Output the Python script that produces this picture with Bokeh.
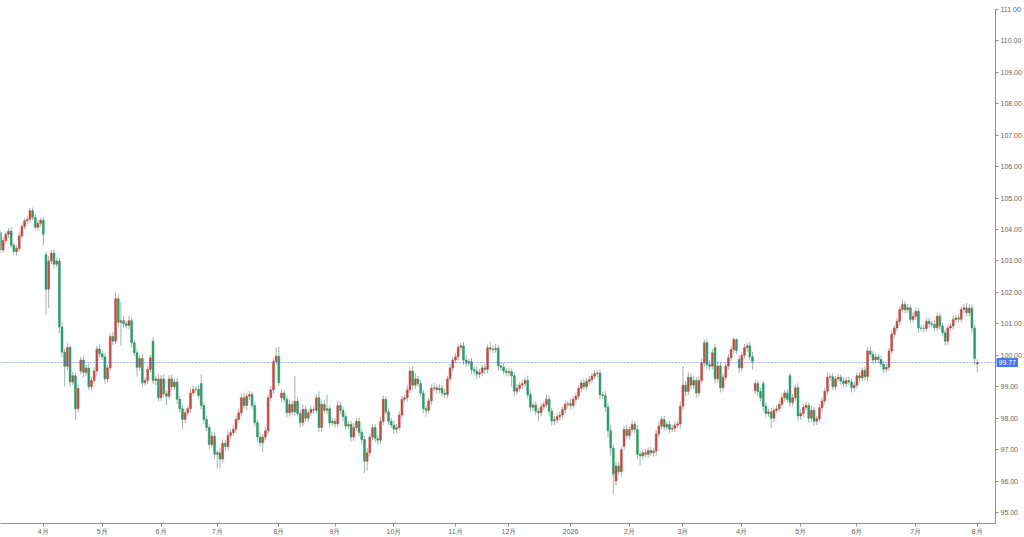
import pandas as pd
from bokeh.plotting import figure
from bokeh.models import Range1d, FixedTicker, Span, Label, ColumnDataSource, NumeralTickFormatter
from bokeh.embed import file_html
from bokeh.resources import INLINE

# ---------------- data ----------------
start_date = "2025-03-10"
first_open = 103.9

closes = [
    103.35, 103.65, 103.85, 103.95, 103.5, 103.3, 103.4, 103.8, 104.1, 104.28,
    104.32, 104.6, 104.38, 104.07, 104.2, 104.3, 103.85, 102.1, 103.0, 103.25,
    102.9, 103.0, 100.9, 100.1, 99.65, 100.25, 99.15, 99.35, 98.3, 98.95,
    99.85, 99.45, 99.6, 99.0, 99.2, 99.5, 100.2, 100.05, 99.95, 99.25,
    99.6, 100.6, 100.45, 101.8, 101.05, 101.1, 101.0, 100.95, 101.1, 100.4,
    100.08, 99.62, 99.9, 99.13, 99.2, 99.55, 99.92, 99.2, 99.25, 98.65,
    99.25, 98.78, 98.7, 99.25, 99.0, 99.15, 98.6, 98.3, 97.96, 98.17,
    98.3, 98.8, 98.92, 98.92, 98.72, 98.4, 97.96, 97.7, 97.16, 97.43,
    96.85, 96.9, 96.7, 97.2, 97.1, 97.45, 97.54, 97.65, 97.96, 98.17,
    98.65, 98.4, 98.7, 98.75, 98.4, 97.86, 97.4, 97.22, 97.4, 97.6,
    98.65, 98.9, 99.8, 99.97, 99.13, 98.8, 98.6, 98.17, 98.44, 98.2,
    98.54, 98.15, 97.86, 98.28, 98.0, 98.17, 98.28, 98.25, 98.65, 97.7,
    98.44, 98.25, 98.3, 97.85, 97.9, 97.82, 98.4, 98.25, 98.05, 97.75,
    97.8, 97.4, 97.7, 97.9, 97.55, 97.32, 96.63, 96.9, 97.4, 97.7,
    97.35, 97.3, 97.9, 98.6, 98.2, 97.9, 97.78, 97.65, 97.7, 98.1,
    98.6, 98.65, 98.9, 99.5, 99.05, 99.25, 99.1, 98.8, 98.3, 98.25,
    98.55, 98.95, 98.97, 98.9, 98.95, 98.8, 98.75, 99.25, 99.6, 99.85,
    99.95, 100.25, 100.3, 99.85, 99.75, 99.8, 99.55, 99.5, 99.4, 99.45,
    99.6, 99.55, 100.24, 100.2, 100.18, 100.22, 99.66, 99.62, 99.5, 99.45,
    99.48, 99.35, 98.86, 98.95, 99.05, 99.1, 99.2, 98.75, 98.35, 98.42,
    98.22, 98.17, 98.36, 98.44, 98.6, 98.22, 97.91, 97.95, 98.05, 98.1,
    98.27, 98.44, 98.46, 98.4, 98.6, 98.7, 98.95, 99.12, 99.0, 99.17,
    99.23, 99.34, 99.42, 99.44, 98.75, 98.72, 98.35, 97.6, 97.05, 96.22,
    96.48, 96.3, 97.0, 97.64, 97.45, 97.64, 97.8, 97.64, 96.85, 96.8,
    96.9, 96.85, 96.97, 96.9, 96.95, 97.5, 97.75, 97.96, 97.72, 97.8,
    97.65, 97.68, 97.78, 97.82, 98.38, 99.05, 98.85, 99.3, 99.05, 99.2,
    98.8, 99.2, 99.76, 100.4, 99.7, 99.65, 100.08, 99.25, 99.66, 98.97,
    99.3, 99.66, 99.92, 100.18, 100.5, 100.15, 99.6, 100.0, 100.24, 100.3,
    99.95, 99.8, 99.1, 98.85, 98.65, 98.38, 98.15, 98.2, 98.0, 98.25,
    98.3, 98.44, 98.65, 98.8, 98.6, 98.5, 98.65, 98.97, 98.07, 98.15,
    98.35, 98.4, 98.0, 98.25, 97.9, 97.98, 98.33, 98.55, 98.86, 99.3,
    99.32, 99.0, 99.25, 99.3, 99.18, 99.1, 99.2, 99.15, 98.97, 99.05,
    99.35, 99.28, 99.52, 99.32, 100.14, 100.03, 99.85, 99.95, 99.87, 99.72,
    99.56, 99.62, 100.14, 100.67, 100.87, 101.08, 101.46, 101.62, 101.45, 101.51,
    101.14, 101.24, 101.4, 100.87, 100.86, 100.85, 101.08, 101.0, 100.98, 100.88,
    101.24, 100.93, 100.72, 100.45, 100.87, 100.93, 101.14, 101.19, 101.15, 101.46,
    101.51, 101.35, 101.5, 100.87, 99.9, 99.77,
]

# opens that gap away from the previous close
open_gaps = {17: 103.2, 30: 99.5, 57: 100.45, 75: 99.1, 105: 98.65,
             230: 96.0, 233: 97.1, 267: 100.24, 276: 99.87, 282: 98.88,
             285: 99.1, 295: 99.35, 365: 99.72}

upper_wicks = [
    0.10, 0.12, 0.08, 0.10, 0.12, 0.08, 0.10, 0.12, 0.10, 0.08,
    0.10, 0.08, 0.10, 0.12, 0.10, 0.08, 0.10, 0.10, 0.15, 0.10,
    0.12, 0.10, 0.10, 0.15, 0.12, 0.15, 0.10, 0.12, 0.10, 0.12,
    0.10, 0.12, 0.10, 0.15, 0.10, 0.12, 0.10, 0.15, 0.10, 0.12,
    0.10, 0.10, 0.15, 0.20, 0.12, 0.60, 0.15, 0.10, 0.15, 0.10,
    0.10, 0.12, 0.10, 0.15, 0.10, 0.12, 0.10, 0.12, 0.10, 0.15,
    0.12, 0.15, 0.10, 0.12, 0.15, 0.10, 0.12, 0.10, 0.12, 0.10,
    0.10, 0.15, 0.12, 0.10, 0.12, 0.30, 0.10, 0.12, 0.10, 0.15,
    0.12, 0.10, 0.15, 0.12, 0.10, 0.15, 0.10, 0.12, 0.10, 0.15,
    0.12, 0.15, 0.10, 0.12, 0.10, 0.12, 0.10, 0.15, 0.10, 0.12,
    0.10, 0.12, 0.10, 0.27, 0.30, 0.12, 0.10, 0.12, 0.15, 0.12,
    0.80, 0.12, 0.10, 0.15, 0.12, 0.10, 0.12, 0.10, 0.12, 0.20,
    0.12, 0.15, 0.45, 0.10, 0.12, 0.10, 0.15, 0.12, 0.10, 0.12,
    0.10, 0.12, 0.15, 0.10, 0.12, 0.10, 0.12, 0.15, 0.12, 0.10,
    0.12, 0.10, 0.15, 0.12, 0.10, 0.12, 0.10, 0.15, 0.12, 0.10,
    0.12, 0.10, 0.15, 0.12, 0.15, 0.20, 0.10, 0.12, 0.10, 0.12,
    0.10, 0.12, 0.15, 0.10, 0.12, 0.10, 0.12, 0.10, 0.12, 0.10,
    0.12, 0.10, 0.10, 0.12, 0.15, 0.10, 0.12, 0.10, 0.15, 0.12,
    0.10, 0.12, 0.10, 0.20, 0.12, 0.15, 0.10, 0.12, 0.15, 0.10,
    0.12, 0.10, 0.12, 0.15, 0.10, 0.12, 0.10, 0.15, 0.12, 0.10,
    0.12, 0.10, 0.12, 0.10, 0.15, 0.12, 0.10, 0.12, 0.10, 0.12,
    0.10, 0.12, 0.10, 0.15, 0.10, 0.12, 0.10, 0.12, 0.15, 0.10,
    0.12, 0.10, 0.12, 0.10, 0.12, 0.10, 0.15, 0.12, 0.20, 0.12,
    0.15, 0.12, 0.10, 0.12, 0.15, 0.10, 0.12, 0.10, 0.15, 0.12,
    0.10, 0.12, 0.10, 0.12, 0.10, 0.12, 0.15, 0.10, 0.12, 0.10,
    0.12, 0.10, 0.12, 0.10, 0.15, 0.60, 0.12, 0.15, 0.12, 0.15,
    0.12, 0.15, 0.12, 0.10, 0.12, 0.15, 0.12, 0.12, 0.15, 0.12,
    0.12, 0.10, 0.12, 0.10, 0.08, 0.05, 0.12, 0.10, 0.12, 0.10,
    0.12, 0.15, 0.12, 0.10, 0.12, 0.10, 0.12, 0.10, 0.12, 0.10,
    0.12, 0.10, 0.12, 0.10, 0.12, 0.10, 0.12, 0.10, 0.15, 0.12,
    0.10, 0.12, 0.10, 0.15, 0.12, 0.10, 0.12, 0.10, 0.12, 0.15,
    0.10, 0.12, 0.10, 0.12, 0.10, 0.12, 0.10, 0.12, 0.10, 0.12,
    0.10, 0.12, 0.10, 0.12, 0.12, 0.15, 0.10, 0.12, 0.10, 0.12,
    0.10, 0.12, 0.10, 0.12, 0.10, 0.12, 0.10, 0.16, 0.10, 0.12,
    0.10, 0.12, 0.10, 0.12, 0.10, 0.12, 0.10, 0.12, 0.10, 0.12,
    0.12, 0.10, 0.12, 0.10, 0.12, 0.10, 0.12, 0.10, 0.12, 0.10,
    0.12, 0.15, 0.12, 0.10, 0.10, 0.10,
]

lower_wicks = [
    0.10, 0.08, 0.10, 0.12, 0.08, 0.10, 0.12, 0.10, 0.08, 0.10,
    0.12, 0.10, 0.08, 0.10, 0.12, 0.10, 0.35, 0.80, 0.60, 0.10,
    0.12, 0.10, 0.20, 0.15, 0.65, 0.12, 0.15, 0.10, 0.35, 0.12,
    0.10, 0.15, 0.12, 0.10, 0.12, 0.10, 0.15, 0.12, 0.10, 0.15,
    0.12, 0.10, 0.12, 0.10, 0.15, 0.75, 0.12, 0.10, 0.12, 0.15,
    0.10, 0.30, 0.12, 0.15, 0.10, 0.12, 0.10, 0.12, 0.15, 0.12,
    0.10, 0.12, 0.30, 0.10, 0.12, 0.10, 0.15, 0.12, 0.30, 0.12,
    0.10, 0.12, 0.10, 0.12, 0.10, 0.12, 0.15, 0.12, 0.15, 0.10,
    0.12, 0.45, 0.30, 0.12, 0.15, 0.10, 0.12, 0.10, 0.12, 0.10,
    0.12, 0.10, 0.15, 0.12, 0.10, 0.12, 0.15, 0.12, 0.30, 0.10,
    0.12, 0.10, 0.12, 0.10, 0.12, 0.15, 0.10, 0.15, 0.12, 0.10,
    0.12, 0.10, 0.15, 0.12, 0.10, 0.12, 0.10, 0.12, 0.10, 0.15,
    0.12, 0.10, 0.12, 0.15, 0.10, 0.12, 0.10, 0.12, 0.15, 0.12,
    0.10, 0.15, 0.12, 0.10, 0.12, 0.15, 0.37, 0.30, 0.12, 0.10,
    0.12, 0.15, 0.10, 0.12, 0.10, 0.12, 0.10, 0.15, 0.12, 0.10,
    0.12, 0.10, 0.12, 0.10, 0.15, 0.12, 0.10, 0.12, 0.15, 0.20,
    0.10, 0.12, 0.10, 0.12, 0.10, 0.12, 0.10, 0.12, 0.10, 0.12,
    0.10, 0.12, 0.10, 0.15, 0.12, 0.10, 0.15, 0.12, 0.15, 0.12,
    0.12, 0.15, 0.12, 0.10, 0.12, 0.10, 0.15, 0.12, 0.10, 0.12,
    0.12, 0.35, 0.15, 0.12, 0.10, 0.12, 0.10, 0.12, 0.15, 0.12,
    0.12, 0.27, 0.10, 0.12, 0.10, 0.15, 0.15, 0.12, 0.10, 0.12,
    0.10, 0.12, 0.10, 0.12, 0.10, 0.12, 0.10, 0.12, 0.10, 0.12,
    0.10, 0.12, 0.10, 0.12, 0.15, 0.12, 0.15, 0.20, 0.25, 0.64,
    0.15, 0.12, 0.15, 0.12, 0.10, 0.12, 0.10, 0.12, 0.15, 0.30,
    0.12, 0.10, 0.12, 0.10, 0.12, 0.15, 0.12, 0.10, 0.12, 0.10,
    0.12, 0.10, 0.12, 0.10, 0.15, 0.12, 0.15, 0.12, 0.15, 0.12,
    0.15, 0.12, 0.10, 0.12, 0.15, 0.12, 0.10, 0.15, 0.12, 0.15,
    0.12, 0.10, 0.12, 0.10, 0.12, 0.10, 0.15, 0.12, 0.10, 0.12,
    0.12, 0.25, 0.12, 0.15, 0.12, 0.15, 0.12, 0.10, 0.30, 0.12,
    0.10, 0.12, 0.10, 0.12, 0.10, 0.15, 0.12, 0.10, 0.15, 0.12,
    0.12, 0.10, 0.15, 0.12, 0.15, 0.12, 0.10, 0.12, 0.10, 0.12,
    0.12, 0.10, 0.12, 0.10, 0.12, 0.10, 0.12, 0.10, 0.15, 0.12,
    0.10, 0.12, 0.10, 0.12, 0.15, 0.10, 0.12, 0.10, 0.12, 0.10,
    0.12, 0.10, 0.12, 0.10, 0.12, 0.10, 0.12, 0.10, 0.12, 0.10,
    0.12, 0.10, 0.12, 0.15, 0.10, 0.12, 0.10, 0.12, 0.10, 0.12,
    0.10, 0.12, 0.10, 0.15, 0.12, 0.10, 0.12, 0.10, 0.12, 0.10,
    0.12, 0.10, 0.12, 0.15, 0.20, 0.27,
]

last_price = 99.77
price_ticks = [95, 96, 97, 98, 99, 100, 101, 102, 103, 104, 105, 106, 107, 108, 109, 110, 111]

# ---------------- derived ----------------
n = len(closes)
opens = [first_open] + closes[:-1]
for k, v in open_gaps.items():
    opens[k] = v
highs = [max(o, c) + u for o, c, u in zip(opens, closes, upper_wicks[:n])]
lows = [min(o, c) - d for o, c, d in zip(opens, closes, lower_wicks[:n])]

dates = pd.bdate_range(start_date, periods=n)
idx = list(range(n))

RED = "#c04b44"
GREEN = "#2b9b68"
WICK = "#a3b2aa"

colors = [RED if c >= o else GREEN for o, c in zip(opens, closes)]
src = ColumnDataSource(dict(
    x=idx, open=opens, close=closes, high=highs, low=lows,
    top=[max(o, c) for o, c in zip(opens, closes)],
    bottom=[min(o, c) for o, c in zip(opens, closes)],
    color=colors,
))

# month ticks (first trading day of each month)
tick_pos = []
tick_lab = {}
for i in range(1, n):
    if dates[i].month != dates[i - 1].month:
        tick_pos.append(i)
        tick_lab[i] = "2026" if (dates[i].month == 1) else f"{dates[i].month}月"

X_END = 371.8
p = figure(width=1024, height=537,
           x_range=Range1d(0, X_END), y_range=Range1d(94.65, 111.0),
           output_backend="svg", toolbar_location=None,
           y_axis_location="right",
           min_border_left=0, min_border_top=0,
           min_border_right=0, min_border_bottom=0)
p.outline_line_color = None
p.grid.visible = False
p.background_fill_color = "white"
p.border_fill_color = "white"

p.segment(x0="x", y0="low", x1="x", y1="high", source=src,
          line_color=WICK, line_width=1)
p.vbar(x="x", width=0.72, top="top", bottom="bottom", source=src,
       fill_color="color", line_color="color", line_width=0.5)

# last price line (dotted)
p.add_layout(Span(location=last_price, dimension="width", line_color="#4f6fd6",
                  line_dash="1 2", line_width=1))

# axes styling
ya = p.yaxis[0]
ya.ticker = FixedTicker(ticks=price_ticks)
ya.formatter = NumeralTickFormatter(format="0.00")
ya.axis_line_color = "#8f8f8f"
ya.major_tick_line_color = "#8f8f8f"
ya.major_tick_out = 3
ya.major_tick_in = 0
ya.minor_tick_line_color = None
ya.major_label_text_font = "Liberation Sans"
ya.major_label_text_font_size = "7px"
ya.major_label_text_color = "#666666"
ya.major_label_standoff = 2
ya.axis_label_standoff = 0

xa = p.xaxis[0]
xa.ticker = FixedTicker(ticks=tick_pos)
xa.major_label_overrides = tick_lab
xa.axis_line_color = "#8f8f8f"
xa.major_tick_line_color = "#8f8f8f"
xa.major_tick_out = 3
xa.major_tick_in = 0
xa.minor_tick_line_color = None
xa.major_label_text_font = "Liberation Sans"
xa.major_label_text_font_size = "7px"
xa.major_label_text_color = "#666666"
xa.major_label_standoff = 1
xa.axis_label_standoff = 0

# last price tag over the price axis (side panel, so it is not clipped to the frame)
tag = Label(x=X_END, y=last_price, x_units="data", y_units="data",
            text=f"{last_price:.2f}", text_color="white",
            text_font="Liberation Sans", text_font_size="7px",
            text_align="left", text_baseline="middle",
            background_fill_color="#4677ea", x_offset=1, padding=2)
p.add_layout(tag, "above")

open("out.html", "w").write(file_html(p, INLINE))
